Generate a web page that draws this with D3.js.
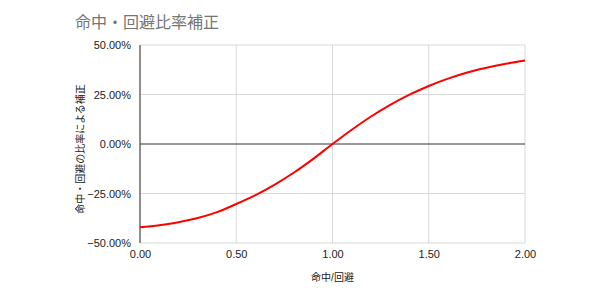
<!DOCTYPE html>
<html>
<head>
<meta charset="utf-8">
<script src="https://cdn.jsdelivr.net/npm/d3@7"></script>
<style>
  html, body { margin: 0; padding: 0; background: #fff; }
  svg text { font-family: Arial, "Liberation Sans", "Noto Sans CJK JP", sans-serif; }
</style>
</head>
<body>
<div id="chart"></div>
<script>
// ratio (命中/回避) and correction in percent
const ratios = [0, 0.1, 0.2, 0.3, 0.4, 0.5, 0.6, 0.7, 0.8, 0.9, 1.0,
                1.1, 1.2, 1.3, 1.4, 1.5, 1.6, 1.7, 1.8, 1.9, 2.0];
const correction = [-42.1, -41.0, -39.5, -37.4, -34.4, -30.3, -25.8, -20.5, -14.4, -7.5, 0,
                    7.2, 13.9, 19.8, 24.9, 29.3, 33.0, 36.1, 38.5, 40.5, 42.2];
const xTicks = [0, 0.5, 1.0, 1.5, 2.0];
const yTicks = [-50, -25, 0, 25, 50];

const width = 600, height = 297;
const margin = { top: 45, right: 75, bottom: 54, left: 140 };

const svg = d3.select('#chart').append('svg')
    .attr('width', width)
    .attr('height', height);

const x = d3.scaleLinear().domain([0, 2]).range([margin.left, width - margin.right]);
const y = d3.scaleLinear().domain([-50, 50]).range([height - margin.bottom, margin.top]);

// Title
svg.append('text')
    .attr('x', 75).attr('y', 28)
    .attr('fill', '#757575')
    .attr('font-size', '16px')
    .text('命中・回避比率補正');

// Grid lines
svg.append('g')
    .selectAll('line')
    .data(xTicks)
    .join('line')
    .attr('x1', d => x(d)).attr('x2', d => x(d))
    .attr('y1', y(50)).attr('y2', y(-50))
    .attr('stroke', '#d9d9d9').attr('stroke-width', 1);

svg.append('g')
    .selectAll('line')
    .data(yTicks.filter(d => d !== 0))
    .join('line')
    .attr('x1', x(0)).attr('x2', x(2))
    .attr('y1', d => y(d)).attr('y2', d => y(d))
    .attr('stroke', '#d9d9d9').attr('stroke-width', 1);

// Zero line and left axis line
svg.append('line')
    .attr('x1', x(0)).attr('x2', x(2))
    .attr('y1', y(0)).attr('y2', y(0))
    .attr('stroke', '#333').attr('stroke-width', 1);
svg.append('line')
    .attr('x1', x(0)).attr('x2', x(0))
    .attr('y1', y(50)).attr('y2', y(-50))
    .attr('stroke', '#333').attr('stroke-width', 1);

// Axes (labels only)
const yAxis = svg.append('g')
    .attr('transform', `translate(${x(0) - 6},0)`)
    .call(d3.axisLeft(y).tickValues(yTicks).tickSize(0).tickFormat(d => d3.format('.2f')(d) + '%'));
const xAxis = svg.append('g')
    .attr('transform', `translate(0,${y(-50) + 4})`)
    .call(d3.axisBottom(x).tickValues(xTicks).tickSize(0).tickFormat(d3.format('.2f')));
[xAxis, yAxis].forEach(a => {
    a.select('.domain').remove();
    a.selectAll('text')
        .attr('font-family', 'Arial, "Liberation Sans", sans-serif')
        .attr('font-size', '11px')
        .attr('fill', '#222');
});

// Axis titles
svg.append('text')
    .attr('x', x(1)).attr('y', 281)
    .attr('text-anchor', 'middle')
    .attr('font-size', '10px')
    .attr('fill', '#222')
    .text('命中/回避');
svg.append('text')
    .attr('transform', `translate(84,${y(0) + 5}) rotate(-90)`)
    .attr('text-anchor', 'middle')
    .attr('font-size', '10px')
    .attr('fill', '#222')
    .text('命中・回避の比率による補正');

// Curve
const line = d3.line()
    .x((d, i) => x(ratios[i]))
    .y(d => y(d))
    .curve(d3.curveMonotoneX);

svg.append('path')
    .datum(correction)
    .attr('fill', 'none')
    .attr('stroke', '#ff0000')
    .attr('stroke-width', 2)
    .attr('d', line);
</script>
</body>
</html>
